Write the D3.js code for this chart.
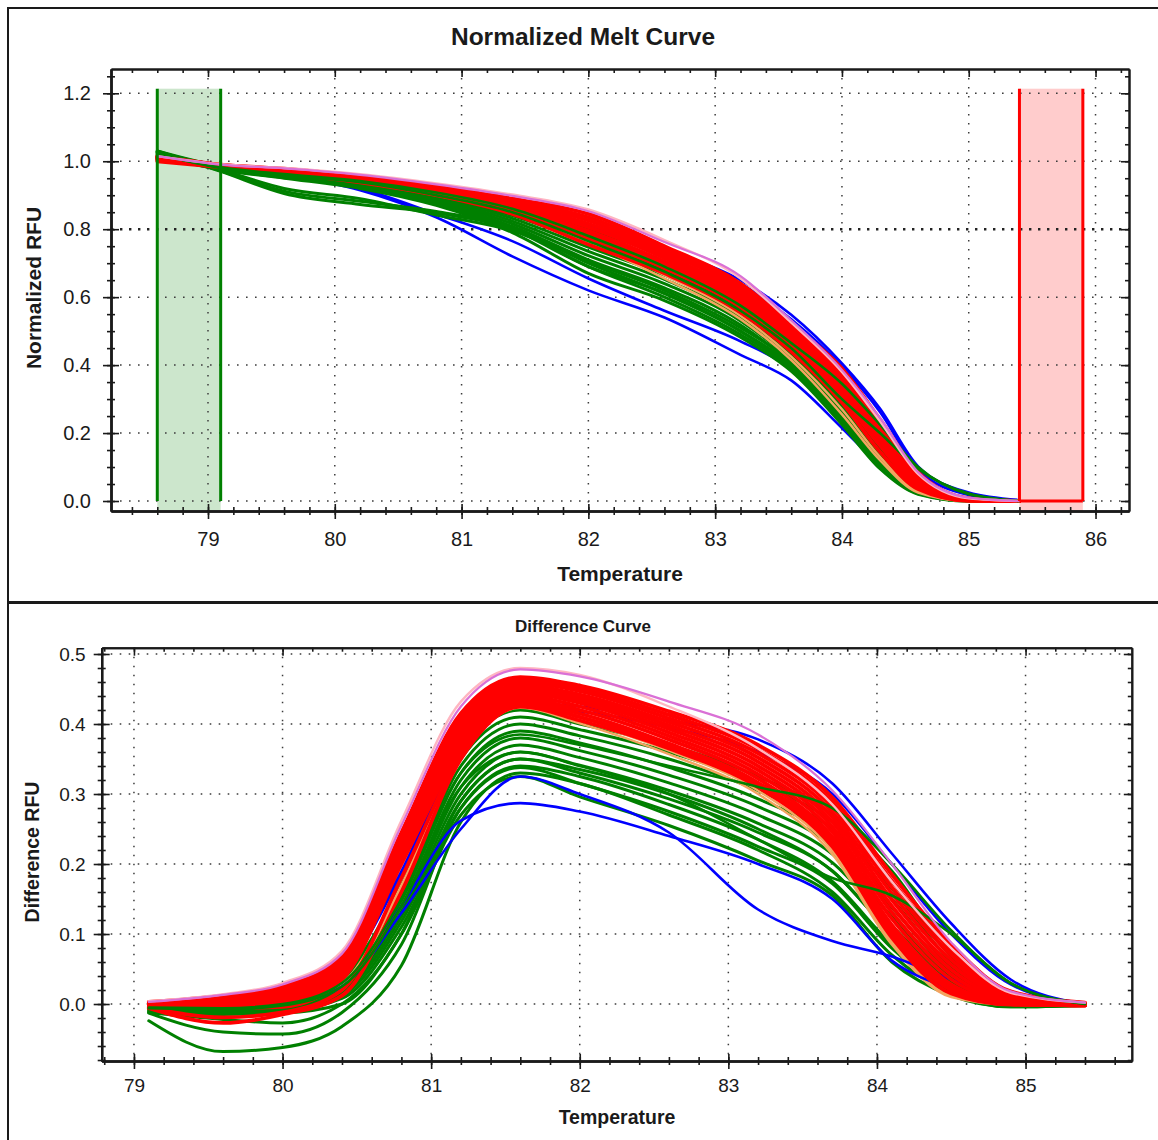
<!DOCTYPE html>
<html>
<head>
<meta charset="utf-8">
<script src="https://cdn.jsdelivr.net/npm/d3@7"></script>
<style>
  body { margin: 0; background: #fff; }
</style>
</head>
<body>
<div id="chart"></div>
<script>
// ---------- data ----------
const meltTemps = [78.6, 79.1, 79.6, 80.2, 80.8, 81.4, 82.0, 82.6, 83.2, 83.6, 84.0, 84.3, 84.6, 85.0, 85.4]
const diffTemps = [79.1, 79.6, 80.0, 80.4, 80.8, 81.2, 81.6, 82.0, 82.6, 83.2, 83.7, 84.1, 84.5, 84.9, 85.4]

const meltXTicks = [79, 80, 81, 82, 83, 84, 85, 86]
const meltYTicks = [0, 0.2, 0.4, 0.6, 0.8, 1.0, 1.2]
const diffXTicks = [79, 80, 81, 82, 83, 84, 85]
const diffYTicks = [0, 0.1, 0.2, 0.3, 0.4, 0.5]

const beginRegion = [78.6, 79.1]
const endRegion = [85.4, 85.9]
const regionTop = 1.2135
const thresholdLevel = 0.8

const meltRed = [
  [1.015, 0.990, 0.978, 0.956, 0.925, 0.890, 0.845, 0.750, 0.640, 0.520, 0.390, 0.240, 0.085, 0.008, 0.0],
  [1.013, 0.989, 0.976, 0.953, 0.922, 0.885, 0.835, 0.742, 0.630, 0.510, 0.378, 0.230, 0.080, 0.007, 0.0],
  [1.012, 0.988, 0.974, 0.951, 0.919, 0.879, 0.826, 0.733, 0.621, 0.500, 0.366, 0.220, 0.074, 0.006, 0.0],
  [1.011, 0.988, 0.973, 0.949, 0.916, 0.873, 0.816, 0.724, 0.611, 0.490, 0.354, 0.210, 0.068, 0.005, 0.0],
  [1.010, 0.987, 0.971, 0.947, 0.913, 0.868, 0.806, 0.715, 0.601, 0.480, 0.342, 0.200, 0.062, 0.004, 0.0],
  [1.008, 0.986, 0.970, 0.945, 0.910, 0.862, 0.795, 0.705, 0.591, 0.470, 0.330, 0.189, 0.056, 0.003, 0.0],
  [1.006, 0.985, 0.968, 0.943, 0.907, 0.857, 0.785, 0.696, 0.581, 0.460, 0.318, 0.178, 0.049, 0.002, 0.0],
  [1.004, 0.984, 0.966, 0.940, 0.904, 0.851, 0.772, 0.685, 0.569, 0.450, 0.305, 0.163, 0.042, 0.001, 0.0],
  [1.000, 0.983, 0.964, 0.938, 0.900, 0.845, 0.755, 0.670, 0.555, 0.440, 0.290, 0.145, 0.035, 0.001, 0.0]
]
const meltGreen = [
  [1.030, 0.985, 0.965, 0.948, 0.915, 0.865, 0.800, 0.720, 0.600, 0.470, 0.330, 0.190, 0.060, 0.005, 0.0],
  [1.028, 0.984, 0.963, 0.945, 0.910, 0.855, 0.785, 0.705, 0.588, 0.460, 0.318, 0.180, 0.055, 0.004, 0.0],
  [1.027, 0.983, 0.962, 0.942, 0.905, 0.848, 0.772, 0.690, 0.576, 0.452, 0.305, 0.170, 0.050, 0.004, 0.0],
  [1.025, 0.982, 0.960, 0.940, 0.900, 0.840, 0.760, 0.678, 0.565, 0.443, 0.295, 0.160, 0.045, 0.003, 0.0],
  [1.024, 0.981, 0.959, 0.937, 0.895, 0.832, 0.747, 0.665, 0.553, 0.434, 0.283, 0.150, 0.040, 0.003, 0.0],
  [1.022, 0.980, 0.957, 0.934, 0.890, 0.824, 0.735, 0.652, 0.542, 0.425, 0.272, 0.140, 0.036, 0.002, 0.0],
  [1.020, 0.979, 0.955, 0.931, 0.885, 0.816, 0.722, 0.640, 0.530, 0.415, 0.260, 0.130, 0.032, 0.002, 0.0],
  [1.019, 0.978, 0.954, 0.928, 0.880, 0.808, 0.710, 0.627, 0.518, 0.405, 0.250, 0.120, 0.028, 0.001, 0.0],
  [1.017, 0.976, 0.952, 0.924, 0.875, 0.800, 0.690, 0.612, 0.500, 0.395, 0.238, 0.108, 0.024, 0.001, 0.0],
  [1.015, 0.975, 0.950, 0.920, 0.870, 0.790, 0.670, 0.590, 0.482, 0.382, 0.225, 0.095, 0.020, 0.0, 0.0],
  [1.030, 0.970, 0.905, 0.873, 0.848, 0.800, 0.690, 0.600, 0.490, 0.390, 0.230, 0.100, 0.022, 0.0, 0.0],
  [1.028, 0.972, 0.912, 0.882, 0.852, 0.805, 0.700, 0.610, 0.500, 0.400, 0.240, 0.110, 0.025, 0.001, 0.0],
  [1.025, 0.975, 0.920, 0.890, 0.842, 0.795, 0.705, 0.620, 0.510, 0.410, 0.250, 0.120, 0.030, 0.001, 0.0]
]
const meltGreenLate = [
  [1.022, 0.980, 0.958, 0.938, 0.900, 0.850, 0.765, 0.675, 0.560, 0.450, 0.300, 0.200, 0.095, 0.022, 0.0],
  [1.020, 0.982, 0.962, 0.942, 0.908, 0.860, 0.780, 0.690, 0.575, 0.465, 0.345, 0.225, 0.100, 0.020, 0.0]
]
// low blue pair (below the green band) and high blue pair (under / right of the red band)
const meltBlueLow = [
  [1.010, 0.985, 0.960, 0.915, 0.835, 0.720, 0.620, 0.540, 0.430, 0.355, 0.215, 0.105, 0.030, 0.002, 0.0],
  [1.010, 0.985, 0.960, 0.920, 0.845, 0.765, 0.655, 0.560, 0.470, 0.390, 0.250, 0.120, 0.035, 0.003, 0.0]
]
const meltBlueHigh = [
  [1.010, 0.987, 0.970, 0.945, 0.912, 0.872, 0.815, 0.740, 0.650, 0.548, 0.405, 0.272, 0.102, 0.025, 0.003],
  [1.010, 0.986, 0.969, 0.943, 0.909, 0.868, 0.808, 0.730, 0.640, 0.535, 0.396, 0.262, 0.093, 0.018, 0.0]
]
const meltOrange = [
  [1.010, 0.985, 0.966, 0.940, 0.905, 0.855, 0.770, 0.665, 0.545, 0.425, 0.270, 0.130, 0.028, 0.0, 0.0],
  [1.009, 0.984, 0.965, 0.938, 0.900, 0.850, 0.760, 0.655, 0.535, 0.415, 0.255, 0.120, 0.025, 0.0, 0.0]
]
const meltPink = [1.015, 0.991, 0.980, 0.962, 0.935, 0.902, 0.858, 0.768, 0.655, 0.525, 0.380, 0.235, 0.080, 0.008, 0.0]
const meltViolet = [1.015, 0.990, 0.979, 0.960, 0.932, 0.898, 0.853, 0.762, 0.662, 0.532, 0.386, 0.245, 0.085, 0.010, 0.0]

const diffRed = [
  [0.003, 0.012, 0.025, 0.068, 0.245, 0.415, 0.467, 0.455, 0.418, 0.370, 0.295, 0.185, 0.085, 0.018, 0.002],
  [0.002, 0.010, 0.022, 0.065, 0.241, 0.410, 0.463, 0.451, 0.413, 0.364, 0.288, 0.176, 0.077, 0.015, 0.001],
  [0.001, 0.009, 0.020, 0.062, 0.237, 0.405, 0.460, 0.447, 0.408, 0.358, 0.281, 0.167, 0.070, 0.013, 0.001],
  [0.001, 0.007, 0.017, 0.059, 0.233, 0.399, 0.456, 0.442, 0.403, 0.352, 0.274, 0.158, 0.063, 0.011, 0.0],
  [0.000, 0.005, 0.014, 0.056, 0.229, 0.394, 0.452, 0.438, 0.398, 0.346, 0.267, 0.149, 0.056, 0.009, 0.0],
  [-0.001, 0.003, 0.011, 0.053, 0.225, 0.389, 0.449, 0.434, 0.393, 0.340, 0.260, 0.140, 0.049, 0.007, -0.001],
  [-0.001, 0.002, 0.008, 0.050, 0.221, 0.384, 0.445, 0.430, 0.388, 0.334, 0.253, 0.131, 0.042, 0.005, -0.001],
  [-0.002, 0.000, 0.005, 0.047, 0.216, 0.378, 0.441, 0.425, 0.383, 0.328, 0.246, 0.122, 0.035, 0.004, -0.001],
  [-0.002, -0.002, 0.002, 0.043, 0.211, 0.372, 0.437, 0.420, 0.378, 0.322, 0.239, 0.113, 0.028, 0.002, -0.002],
  [-0.003, -0.004, -0.001, 0.039, 0.205, 0.366, 0.433, 0.415, 0.372, 0.316, 0.232, 0.104, 0.021, 0.000, -0.002],
  [-0.004, -0.006, -0.004, 0.035, 0.200, 0.360, 0.430, 0.410, 0.367, 0.310, 0.225, 0.095, 0.015, -0.001, -0.002],
  [-0.006, -0.027, -0.015, 0.012, 0.160, 0.350, 0.425, 0.405, 0.365, 0.310, 0.230, 0.100, 0.020, 0.000, -0.002],
  [-0.005, -0.019, -0.012, 0.020, 0.180, 0.355, 0.428, 0.410, 0.370, 0.315, 0.235, 0.110, 0.025, 0.001, -0.002]
]
const diffGreen = [
  [-0.002, 0.000, 0.008, 0.040, 0.170, 0.360, 0.420, 0.400, 0.370, 0.325, 0.270, 0.190, 0.075, 0.012, -0.002],
  [-0.004, -0.002, 0.005, 0.036, 0.160, 0.350, 0.410, 0.392, 0.360, 0.315, 0.260, 0.175, 0.068, 0.010, -0.002],
  [-0.005, -0.004, 0.003, 0.032, 0.155, 0.340, 0.400, 0.383, 0.350, 0.305, 0.250, 0.165, 0.060, 0.008, -0.002],
  [-0.006, -0.006, 0.000, 0.028, 0.148, 0.330, 0.390, 0.373, 0.338, 0.293, 0.238, 0.150, 0.052, 0.006, -0.002],
  [-0.007, -0.008, -0.002, 0.024, 0.140, 0.320, 0.380, 0.362, 0.327, 0.282, 0.226, 0.138, 0.045, 0.004, -0.002],
  [-0.008, -0.009, -0.004, 0.020, 0.132, 0.310, 0.370, 0.352, 0.316, 0.270, 0.214, 0.125, 0.038, 0.002, -0.002],
  [-0.009, -0.010, -0.006, 0.016, 0.125, 0.300, 0.360, 0.341, 0.305, 0.258, 0.202, 0.112, 0.032, 0.000, -0.002],
  [-0.010, -0.012, -0.008, 0.012, 0.118, 0.290, 0.350, 0.330, 0.293, 0.245, 0.190, 0.100, 0.026, -0.001, -0.002],
  [-0.011, -0.013, -0.010, 0.008, 0.110, 0.280, 0.338, 0.315, 0.275, 0.225, 0.172, 0.080, 0.018, -0.003, -0.002],
  [-0.012, -0.015, -0.013, 0.000, 0.100, 0.270, 0.325, 0.296, 0.255, 0.205, 0.155, 0.060, 0.012, -0.004, -0.002],
  [-0.024, -0.068, -0.062, -0.032, 0.055, 0.260, 0.330, 0.315, 0.270, 0.220, 0.160, 0.070, 0.015, -0.004, -0.002],
  [-0.013, -0.040, -0.043, -0.012, 0.085, 0.280, 0.340, 0.325, 0.285, 0.235, 0.175, 0.085, 0.020, -0.003, -0.002],
  [-0.012, -0.022, -0.027, 0.000, 0.100, 0.290, 0.350, 0.335, 0.300, 0.250, 0.190, 0.100, 0.025, -0.002, -0.002]
]
const diffGreenLate = [
  [-0.006, -0.008, -0.002, 0.025, 0.140, 0.310, 0.360, 0.340, 0.300, 0.235, 0.180, 0.155, 0.100, 0.030, 0.0],
  [-0.005, -0.006, 0.000, 0.030, 0.150, 0.330, 0.385, 0.370, 0.340, 0.310, 0.280, 0.200, 0.105, 0.030, 0.0]
]
const diffBlueLow = [
  [-0.004, -0.006, 0.000, 0.025, 0.130, 0.250, 0.325, 0.300, 0.245, 0.135, 0.090, 0.068, 0.035, 0.008, 0.0],
  [-0.004, -0.006, 0.000, 0.025, 0.140, 0.262, 0.287, 0.275, 0.240, 0.200, 0.150, 0.062, 0.022, 0.002, 0.0]
]
const diffBlueHigh = [
  [-0.002, 0.002, 0.012, 0.050, 0.190, 0.370, 0.430, 0.425, 0.405, 0.378, 0.315, 0.215, 0.115, 0.035, 0.0],
  [-0.002, 0.001, 0.010, 0.046, 0.185, 0.365, 0.425, 0.418, 0.395, 0.360, 0.300, 0.200, 0.100, 0.028, 0.0]
]
const diffOrange = [
  [-0.002, -0.004, 0.000, 0.030, 0.170, 0.360, 0.426, 0.405, 0.362, 0.305, 0.219, 0.089, 0.012, 0.000, -0.002],
  [-0.003, -0.005, -0.002, 0.028, 0.165, 0.355, 0.423, 0.401, 0.357, 0.300, 0.214, 0.085, 0.010, -0.001, -0.002]
]
const diffPink = [0.004, 0.014, 0.030, 0.076, 0.262, 0.432, 0.480, 0.470, 0.425, 0.365, 0.285, 0.175, 0.080, 0.016, 0.002]
const diffViolet = [0.003, 0.013, 0.028, 0.072, 0.255, 0.425, 0.478, 0.468, 0.432, 0.385, 0.305, 0.200, 0.088, 0.018, 0.002]

// ---------- drawing ----------
const font = '"Liberation Sans", Arial, sans-serif'
const ink = '#1a1a1a'
const RED = '#ff0000', GREEN = '#008000', BLUE = '#0000ff'
const PINK = '#ffb6c1', VIOLET = '#da70d6', ORANGE = '#f4a460'

const svg = d3.select('#chart').append('svg')
  .attr('width', 1158).attr('height', 1140)
  .style('display', 'block')

svg.append('rect').attr('width', 1158).attr('height', 1140).attr('fill', '#fff')

// panel borders
svg.append('rect').attr('x', 8).attr('y', 8).attr('width', 1170).attr('height', 594)
  .attr('fill', 'none').attr('stroke', ink).attr('stroke-width', 2)
svg.append('rect').attr('x', 8).attr('y', 603).attr('width', 1170).attr('height', 560)
  .attr('fill', 'none').attr('stroke', ink).attr('stroke-width', 2)

const callAxis = (g, axis, tx, ty, fontSize) => {
  const a = g.append('g').attr('transform', `translate(${tx},${ty})`).call(axis)
  a.select('.domain').attr('stroke', ink).attr('stroke-width', 2)
  a.selectAll('.tick line').attr('stroke', ink).attr('stroke-width', 1.6)
  a.selectAll('text').attr('font-family', font).attr('font-size', fontSize).attr('fill', ink)
  return a
}

function drawPanel(p) {
  const x = d3.scaleLinear().domain(p.xDomain).range([p.left, p.right])
  const y = d3.scaleLinear().domain(p.yDomain).range([p.bottom, p.top])
  const g = svg.append('g')
  const xMinor = d3.range(p.xMinor[0], p.xMinor[1] + 1e-9, p.xMinor[2])
  const yMinor = d3.range(p.yMinor[0], p.yMinor[1] + 1e-9, p.yMinor[2])

  const back = g.append('g')   // shaded regions
  const grid = g.append('g')
  const curves = g.append('g')
  const front = g.append('g')

  grid.selectAll('.vg').data(p.xTicks).join('line')
    .attr('x1', d => x(d)).attr('x2', d => x(d))
    .attr('y1', p.top).attr('y2', p.bottom)
    .attr('stroke', '#3c3c3c').attr('stroke-width', 1.5).attr('stroke-dasharray', '1.6,7.4')
  grid.selectAll('.hg').data(p.yTicks).join('line')
    .attr('x1', p.left).attr('x2', p.right)
    .attr('y1', d => y(d)).attr('y2', d => y(d))
    .attr('stroke', '#3c3c3c').attr('stroke-width', 1.5).attr('stroke-dasharray', '1.6,7.4')

  // bottom axis (ticks cross the line)
  callAxis(g, d3.axisBottom(x).tickValues(xMinor).tickSize(4).tickSizeOuter(0).tickFormat(''), 0, p.bottom)
  callAxis(g, d3.axisTop(x).tickValues(xMinor).tickSize(4).tickSizeOuter(0).tickFormat(''), 0, p.bottom)
  callAxis(g, d3.axisTop(x).tickValues(p.xTicks).tickSize(7).tickSizeOuter(0).tickFormat(''), 0, p.bottom)
  callAxis(g, d3.axisBottom(x).tickValues(p.xTicks).tickSize(8).tickSizeOuter(0)
    .tickPadding(p.xPad).tickFormat(d3.format('d')), 0, p.bottom, p.tickFont)
  // top frame (inward ticks)
  callAxis(g, d3.axisBottom(x).tickValues(xMinor).tickSize(4).tickSizeOuter(0).tickFormat(''), 0, p.top)
  callAxis(g, d3.axisBottom(x).tickValues(p.xTicks).tickSize(8).tickSizeOuter(0).tickFormat(''), 0, p.top)
  // left axis
  callAxis(g, d3.axisLeft(y).tickValues(yMinor).tickSize(4).tickSizeOuter(0).tickFormat(''), p.left, 0)
  callAxis(g, d3.axisRight(y).tickValues(yMinor).tickSize(4).tickSizeOuter(0).tickFormat(''), p.left, 0)
  callAxis(g, d3.axisRight(y).tickValues(p.yTicks).tickSize(8).tickSizeOuter(0).tickFormat(''), p.left, 0)
  callAxis(g, d3.axisLeft(y).tickValues(p.yTicks).tickSize(8).tickSizeOuter(0)
    .tickPadding(p.yPad).tickFormat(d3.format('.1f')), p.left, 0, p.tickFont)
  // right frame (inward ticks)
  callAxis(g, d3.axisLeft(y).tickValues(yMinor).tickSize(4).tickSizeOuter(0).tickFormat(''), p.right, 0)
  callAxis(g, d3.axisLeft(y).tickValues(p.yTicks).tickSize(8).tickSizeOuter(0).tickFormat(''), p.right, 0)

  // titles
  svg.append('text').text(p.title)
    .attr('x', 583).attr('y', p.titleY).attr('text-anchor', 'middle')
    .attr('font-family', font).attr('font-weight', 'bold').attr('font-size', p.titleFont).attr('fill', ink)
  svg.append('text').text('Temperature')
    .attr('x', p.xLabelX).attr('y', p.xLabelY).attr('text-anchor', 'middle')
    .attr('font-family', font).attr('font-weight', 'bold').attr('font-size', p.labelFont).attr('fill', ink)
  svg.append('text').text(p.yLabel)
    .attr('transform', `translate(${p.yLabelX},${p.yLabelY}) rotate(-90)`)
    .attr('text-anchor', 'middle').attr('dy', '0.35em')
    .attr('font-family', font).attr('font-weight', 'bold').attr('font-size', p.labelFont).attr('fill', ink)

  return { x, y, back, grid, curves, front }
}

function drawCurves(layer, x, y, temps, series, color, width) {
  const line = d3.line()
    .x((d, i) => x(temps[i]))
    .y(d => y(d))
    .curve(d3.curveMonotoneX)
  layer.append('g').selectAll('path').data(series).join('path')
    .attr('d', line)
    .attr('fill', 'none')
    .attr('stroke', color)
    .attr('stroke-width', width)
    .attr('stroke-linejoin', 'round')
    .attr('stroke-linecap', 'round')
}

// ---- top panel: normalized melt curve ----
const melt = drawPanel({
  left: 111, right: 1129, top: 69, bottom: 511,
  xDomain: [78.235, 86.264], yDomain: [-0.0294, 1.2715],
  xTicks: meltXTicks, yTicks: meltYTicks,
  xMinor: [78.4, 86.2, 0.2], yMinor: [0, 1.25, 0.05],
  xPad: 13, yPad: 12, tickFont: 20,
  title: 'Normalized Melt Curve', titleY: 45, titleFont: 24.5,
  xLabelX: 620, xLabelY: 581, yLabel: 'Normalized RFU', yLabelX: 34, yLabelY: 288, labelFont: 21
})

// shaded begin / end regions
melt.back.append('rect')
  .attr('x', melt.x(beginRegion[0])).attr('y', melt.y(regionTop))
  .attr('width', melt.x(beginRegion[1]) - melt.x(beginRegion[0]))
  .attr('height', 511 - melt.y(regionTop))
  .attr('fill', 'rgba(0,128,0,0.2)')
melt.back.append('rect')
  .attr('x', melt.x(endRegion[0])).attr('y', melt.y(regionTop))
  .attr('width', melt.x(endRegion[1]) - melt.x(endRegion[0]))
  .attr('height', 511 - melt.y(regionTop))
  .attr('fill', 'rgba(255,0,0,0.2)')

// threshold line at 0.8 (bolder dotted)
melt.grid.append('line')
  .attr('x1', 111).attr('x2', 1129)
  .attr('y1', melt.y(thresholdLevel)).attr('y2', melt.y(thresholdLevel))
  .attr('stroke', '#222').attr('stroke-width', 2.6).attr('stroke-dasharray', '2.4,6.6')

drawCurves(melt.curves, melt.x, melt.y, meltTemps, meltBlueLow, BLUE, 2.6)
drawCurves(melt.curves, melt.x, melt.y, meltTemps, meltGreen, GREEN, 3)
drawCurves(melt.curves, melt.x, melt.y, meltTemps, meltOrange, ORANGE, 2.4)
drawCurves(melt.curves, melt.x, melt.y, meltTemps, meltBlueHigh, BLUE, 2.6)
drawCurves(melt.curves, melt.x, melt.y, meltTemps, meltRed, RED, 3.8)
drawCurves(melt.curves, melt.x, melt.y, meltTemps, meltGreenLate, GREEN, 2.6)
drawCurves(melt.curves, melt.x, melt.y, meltTemps, [meltPink], PINK, 2.4)
drawCurves(melt.curves, melt.x, melt.y, meltTemps, [meltViolet], VIOLET, 2.2)

// region borders
;[beginRegion[0], beginRegion[1]].forEach(t => {
  melt.front.append('line')
    .attr('x1', melt.x(t)).attr('x2', melt.x(t))
    .attr('y1', melt.y(regionTop)).attr('y2', melt.y(0))
    .attr('stroke', GREEN).attr('stroke-width', 3)
})
;[endRegion[0], endRegion[1]].forEach(t => {
  melt.front.append('line')
    .attr('x1', melt.x(t)).attr('x2', melt.x(t))
    .attr('y1', melt.y(regionTop)).attr('y2', melt.y(0))
    .attr('stroke', RED).attr('stroke-width', 3)
})
melt.front.append('line')
  .attr('x1', melt.x(endRegion[0])).attr('x2', melt.x(endRegion[1]))
  .attr('y1', melt.y(0)).attr('y2', melt.y(0))
  .attr('stroke', RED).attr('stroke-width', 3)

// ---- bottom panel: difference curve ----
const diff = drawPanel({
  left: 101.7, right: 1131.8, top: 647.7, bottom: 1061,
  xDomain: [78.783, 85.715], yDomain: [-0.0814, 0.509],
  xTicks: diffXTicks, yTicks: diffYTicks,
  xMinor: [78.8, 85.6, 0.2], yMinor: [-0.08, 0.5, 0.02],
  xPad: 10, yPad: 8, tickFont: 19,
  title: 'Difference Curve', titleY: 632, titleFont: 17,
  xLabelX: 617, xLabelY: 1124, yLabel: 'Difference RFU', yLabelX: 32, yLabelY: 852, labelFont: 19.5
})

drawCurves(diff.curves, diff.x, diff.y, diffTemps, diffGreen, GREEN, 3)
drawCurves(diff.curves, diff.x, diff.y, diffTemps, diffOrange, ORANGE, 2.4)
drawCurves(diff.curves, diff.x, diff.y, diffTemps, diffBlueLow, BLUE, 2.6)
drawCurves(diff.curves, diff.x, diff.y, diffTemps, diffBlueHigh, BLUE, 2.6)
drawCurves(diff.curves, diff.x, diff.y, diffTemps, diffRed, RED, 3.8)
drawCurves(diff.curves, diff.x, diff.y, diffTemps, diffGreenLate, GREEN, 2.6)
drawCurves(diff.curves, diff.x, diff.y, diffTemps, [diffPink], PINK, 2.4)
drawCurves(diff.curves, diff.x, diff.y, diffTemps, [diffViolet], VIOLET, 2.2)
</script>
</body>
</html>
